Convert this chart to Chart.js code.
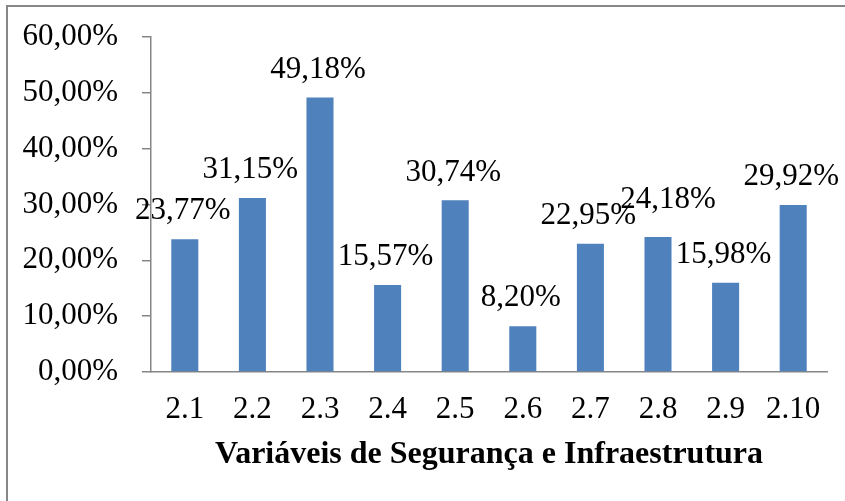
<!DOCTYPE html>
<html>
<head>
<meta charset="utf-8">
<script src="https://cdn.jsdelivr.net/npm/chart.js@4.4.0/dist/chart.umd.min.js"></script>
<style>
  html, body { margin: 0; padding: 0; background: #fff; overflow: hidden; }
  #wrap { position: relative; width: 845px; height: 501px; }
  #frame {
    position: absolute; left: 6px; top: 5px; width: 1000px; height: 1000px;
    border: 2px solid #878787; box-sizing: border-box; pointer-events: none;
  }
  canvas { position: absolute; left: 0; top: 0; }
</style>
</head>
<body>
<div id="wrap">
  <canvas id="chart" width="845" height="501"></canvas>
  <div id="frame"></div>
</div>
<script>
// dados do gráfico
const categorias = ['2.1', '2.2', '2.3', '2.4', '2.5', '2.6', '2.7', '2.8', '2.9', '2.10'];
const valores = [23.77, 31.15, 49.18, 15.57, 30.74, 8.20, 22.95, 24.18, 15.98, 29.92];
const tituloX = 'Variáveis de Segurança e Infraestrutura';

const fmt = v => v.toFixed(2).replace('.', ',') + '%';
const serif = 'Liberation Serif, Times New Roman, serif';
const cinza = '#868686';

// rótulos de dados acima das barras (o 2.8 está deslocado no original)
const rotulos = {
    id: 'rotulos',
    afterDatasetsDraw(chart) {
        const ctx = chart.ctx;
        const meta = chart.getDatasetMeta(0);
        ctx.save();
        ctx.font = '31px ' + serif;
        ctx.fillStyle = '#000';
        ctx.textAlign = 'center';
        ctx.textBaseline = 'middle';
        meta.data.forEach((bar, i) => {
            let dx = -2, dy = 0;
            if (i === 7) { dx = 10; dy = -9; }
            ctx.fillText(fmt(valores[i]), bar.x + dx, bar.y - 28 + dy);
        });
        ctx.restore();
    }
};

new Chart(document.getElementById('chart'), {
    type: 'bar',
    data: {
        labels: categorias,
        datasets: [{
            data: valores,
            backgroundColor: '#4F81BD',
            borderWidth: 0,
            barPercentage: 0.4,
            categoryPercentage: 1.0
        }]
    },
    options: {
        responsive: false,
        animation: false,
        events: [],
        layout: { padding: { left: 0, top: 37, right: 18, bottom: 0 } },
        plugins: {
            legend: { display: false },
            tooltip: { enabled: false }
        },
        scales: {
            x: {
                afterFit: s => { s.height = 129; },
                grid: { display: false, drawTicks: false },
                border: { display: true, color: cinza, width: 1.5 },
                ticks: {
                    color: '#000',
                    padding: 19,
                    maxRotation: 0,
                    font: { family: serif, size: 31 }
                },
                title: {
                    display: true,
                    text: tituloX,
                    color: '#000',
                    padding: { top: 0, bottom: 27 },
                    font: { family: serif, size: 32, weight: 'bold' }
                }
            },
            y: {
                min: 0,
                max: 60,
                afterFit: s => { s.width = 151; s.paddingTop = 0; s.paddingBottom = 0; },
                grid: { drawOnChartArea: false, drawTicks: true, tickLength: 9, color: cinza, lineWidth: 1.5 },
                border: { display: true, color: cinza, width: 1.5 },
                ticks: {
                    stepSize: 10,
                    color: '#000',
                    padding: 24,
                    font: { family: serif, size: 31 },
                    callback: v => fmt(v)
                }
            }
        }
    },
    plugins: [rotulos]
});
</script>
</body>
</html>
